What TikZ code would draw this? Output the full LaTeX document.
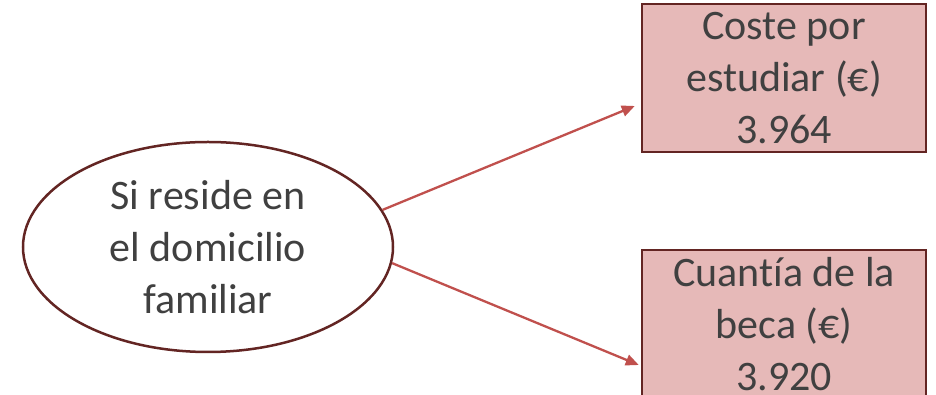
\documentclass[tikz,border=0pt]{standalone}
\usepackage{fontspec}
\setmainfont[Ligatures={NoCommon}]{Carlito}
\usepackage{xcolor}
\definecolor{rouge}{HTML}{C0504D}
\definecolor{bordeaux}{HTML}{632523}
\definecolor{rose}{HTML}{E6B9B8}
\definecolor{texte}{HTML}{404040}
\usetikzlibrary{arrows.meta,shapes.geometric,calc}
\tikzset{
  situ/.style={ellipse,draw=bordeaux,line width=2.5pt,fill=white,minimum width=370pt,minimum height=210pt,inner sep=0pt,text=texte,align=center,font=\fontsize{42}{52}\selectfont},
  result/.style={rectangle,draw=bordeaux,line width=2.5pt,fill=rose,minimum width=284pt,minimum height=148pt,inner sep=0pt,text=texte,align=center,font=\fontsize{42}{52}\selectfont},
  line/.style={draw=rouge,line width=2.3pt,-{Triangle[length=13pt,width=11pt]}},
}
\begin{document}
\begin{tikzpicture}[x=1pt,y=1pt]
  \useasboundingbox (0,0) rectangle (936,395);
  \clip (0,0) rectangle (936,395);

  \node[situ] (ell) at (208,148) {Si reside en\\el domicilio\\familiar};

  %resultados
  \node[result] (box1) at (784,317) {Coste por\\estudiar (€)\\3.964};
  \node[result] (box2) at (784,71) {Cuant\kern0pt ía de la\\beca (€)\\3.920};

  \path[line] (ell.12) -- ([xshift=-6pt,yshift=-28pt]box1.west);
  \path[line] (ell.-5) -- ([xshift=-2pt,yshift=-41pt]box2.west);
\end{tikzpicture}
\end{document}
